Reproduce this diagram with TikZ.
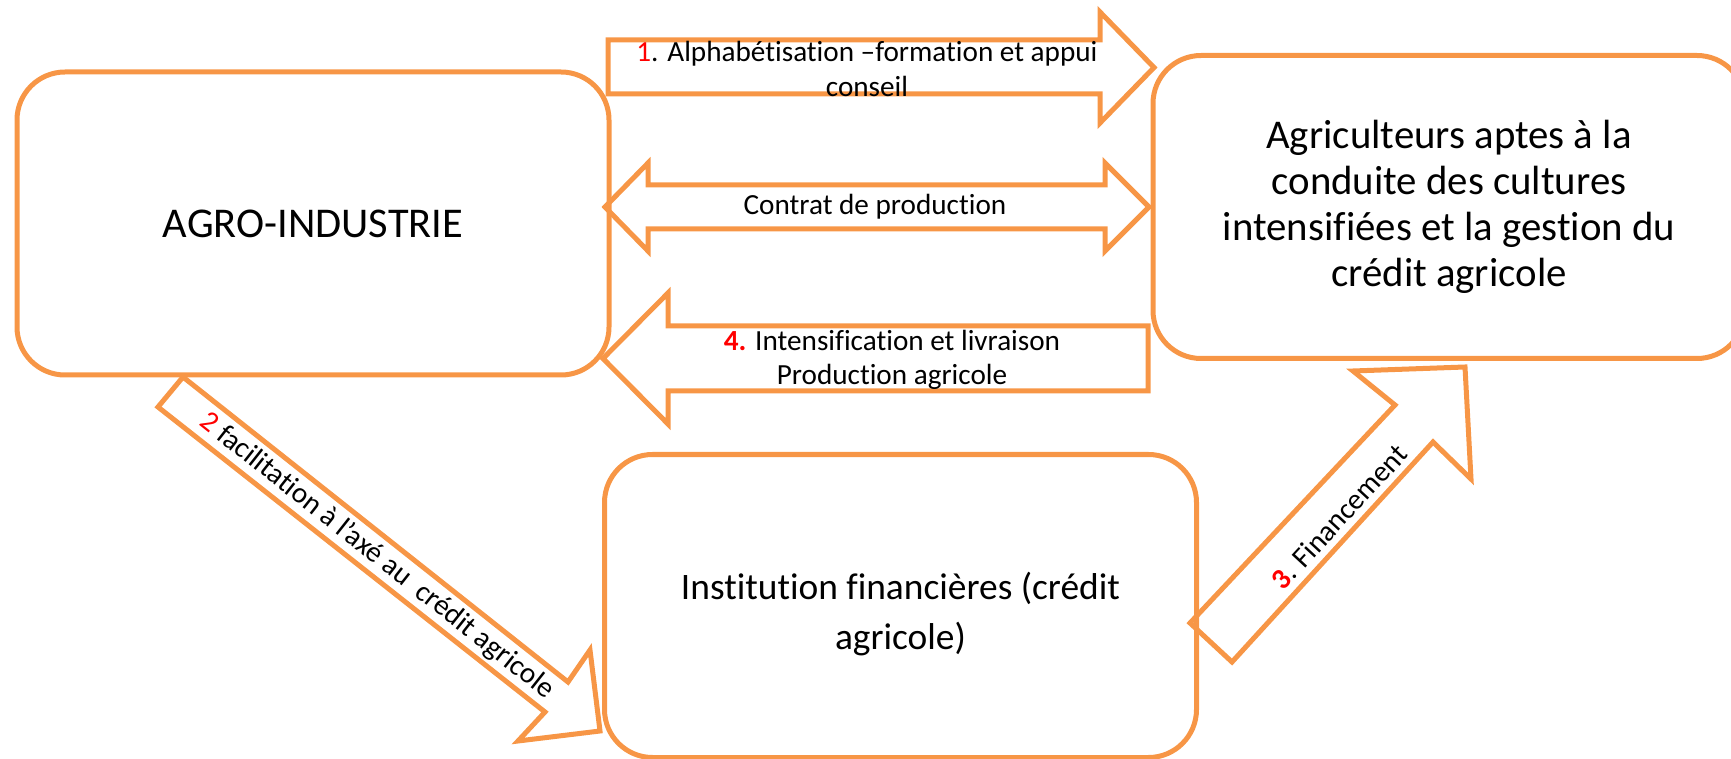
\documentclass[tikz,border=0pt]{standalone}
\usepackage{fontspec}
\setmainfont{Carlito}[Ligatures=NoCommon]
\definecolor{org}{HTML}{F79646}
\definecolor{redn}{HTML}{FF0000}
\begin{document}
\begin{tikzpicture}[x=0.5pt,y=-0.5pt,
  box/.style={draw=org, line width=2.5pt, rounded corners=24pt, minimum width=296pt, minimum height=151.5pt, align=center, inner sep=0pt},
  blk/.style={draw=org, line width=2.5pt, line join=miter},
  lbl/.style={font=\fontsize{14.6}{17.2}\selectfont, align=center, inner sep=0pt},
  num/.style={text=redn}]
\useasboundingbox (0,0) rectangle (1731,759);
\clip (0,0) rectangle (1731,759);

% boxes
\node[box, font=\fontsize{21.2}{25.6}\selectfont] (agro) at (313,223.5) {AGRO-INDUSTRIE};
\node[box, font=\fontsize{20.4}{23.1}\selectfont] (agri) at (1449,207) {Agriculteurs aptes à la\\conduite des cultures\\intensifiées et la gestion du\\crédit agricole};
\node[box, font=\fontsize{18.7}{25}\selectfont] (inst) at (900.5,606) {\rule{0pt}{22pt}Institution financières (crédit\\agricole)};

% arrow 1
\draw[blk] (608,40) -- (1100,40) -- (1100,12) -- (1154,67.5) -- (1100,123) -- (1100,94) -- (608,94) -- cycle;
\node[lbl] (l1) at (867,69) {{\color{redn}1}. Alphabétisation –formation et appui\\conseil};

% double arrow
\draw[blk] (605,207) -- (648,163) -- (648,185) -- (1105,185) -- (1105,163) -- (1149,207) -- (1105,251) -- (1105,229) -- (648,229) -- (648,251) -- cycle;
\node[lbl] (lc) at (875,207) {Contrat de production};

% arrow 4
\draw[blk] (603,358.5) -- (668,293) -- (668,326) -- (1148,326) -- (1148,391) -- (668,391) -- (668,424) -- cycle;
\node[lbl] (l4) at (892,360) {{\bfseries\color{redn}4.} Intensification et livraison\\Production agricole};

% arrow 2
\draw[blk] (183,377) -- (568,682) -- (590,650) -- (600,731) -- (518,741) -- (545,712) -- (158,407) -- cycle;
\node[lbl, rotate=-38.3] (l2) at (377,556) {{\color{redn}2} facilitation à l’axé au\ \ crédit agricole};

% arrow 3
\draw[blk] (1190,623) -- (1395,405) -- (1353,371) -- (1465,367) -- (1471,479) -- (1433,442) -- (1232,662) -- cycle;
\node[lbl, rotate=47.2] (l3) at (1339,517) {{\bfseries\color{redn}3}. Financement};
\end{tikzpicture}
\end{document}
